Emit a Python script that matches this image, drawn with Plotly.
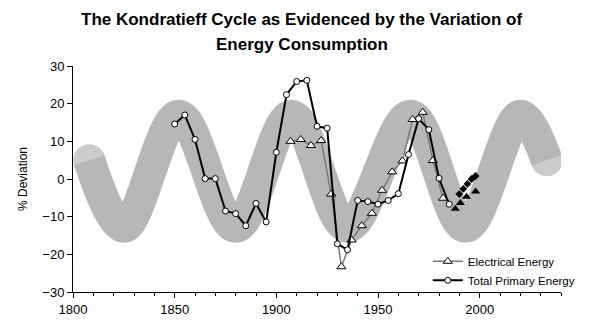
import plotly.graph_objects as go

# Kondratieff long wave (centre line of the shaded band): start, troughs, peaks, end
wave_years = [1808, 1825, 1852, 1880, 1907.5, 1935, 1966, 1993, 2020, 2033]
wave_vals = [5.0, -12.7, 16.8, -12.7, 16.8, -12.7, 16.8, -12.7, 16.8, 5.0]

# Total primary energy, % deviation from trend
total_years = list(range(1850, 1990, 5))
total_vals = [14.6, 17.0, 10.5, 0.1, 0.1, -8.5, -9.2, -12.4, -6.5, -11.4,
              7.1, 22.4, 25.9, 26.2, 14.0, 13.5, -17.2, -18.8, -5.7, -6.0,
              -6.7, -5.7, -3.9, 6.5, 16.0, 13.1, 0.2, -6.7]

# Electrical energy, % deviation from trend
elec_years = list(range(1907, 1987, 5))
elec_vals = [10.0, 10.5, 8.9, 10.2, -4.0, -23.3, -16.2, -12.4, -9.1, -3.0,
             1.9, 4.8, 15.8, 17.7, 4.9, -5.1]

# Recent years (filled markers)
elec_recent_years = [1988, 1990.5, 1993.5, 1998]
elec_recent_vals = [-7.9, -6.4, -4.7, -3.3]
total_recent_years = [1990, 1992, 1994, 1996, 1998]
total_recent_vals = [-4.0, -2.6, -1.3, 0.0, 0.8]

title_lines = ["The Kondratieff Cycle as Evidenced by the Variation of",
               "Energy Consumption"]

FONT = "Arial, 'Liberation Sans', sans-serif"
BAND = "#b7b7b7"
BAND_W = 32

fig = go.Figure()

# shaded long wave, round ends via end markers
cap_sizes = [BAND_W] + [0] * (len(wave_years) - 2) + [BAND_W]
fig.add_trace(go.Scatter(
    x=wave_years, y=wave_vals, mode="lines+markers",
    line=dict(color=BAND, width=BAND_W, shape="spline", smoothing=1.0),
    marker=dict(size=cap_sizes, color=BAND, line=dict(width=0)),
    showlegend=False, hoverinfo="skip"))

fig.add_trace(go.Scatter(
    x=elec_years, y=elec_vals, mode="lines+markers", name="Electrical Energy",
    line=dict(color="#7a7a7a", width=1.5),
    marker=dict(symbol="triangle-up", size=8, color="white",
                line=dict(color="black", width=1))))

fig.add_trace(go.Scatter(
    x=total_years, y=total_vals, mode="lines+markers", name="Total Primary Energy",
    line=dict(color="black", width=2),
    marker=dict(symbol="circle", size=6, color="white",
                line=dict(color="black", width=1))))

fig.add_trace(go.Scatter(
    x=elec_recent_years, y=elec_recent_vals, mode="markers",
    marker=dict(symbol="triangle-up", size=8, color="black"),
    showlegend=False))

fig.add_trace(go.Scatter(
    x=total_recent_years, y=total_recent_vals, mode="lines+markers",
    line=dict(color="black", width=1, dash="dot"),
    marker=dict(symbol="diamond", size=6, color="black"),
    showlegend=False))

L, R, T, B = 73, 28, 66, 41
PW, PH = 592 - L - R, 333 - T - B
title_x = (303 - L) / PW

fig.update_layout(
    width=592, height=333,
    margin=dict(l=L, r=R, t=T, b=B),
    paper_bgcolor="white", plot_bgcolor="white",
    font=dict(family=FONT, size=13, color="black"),
    showlegend=True,
    legend=dict(x=0.727, y=0.2, xanchor="left", yanchor="top",
                font=dict(family=FONT, size=11.5, color="black"),
                bgcolor="rgba(0,0,0,0)", tracegroupgap=0),
    annotations=[
        dict(text="<b>%s</b>" % title_lines[0],
             xref="paper", yref="paper", x=title_x, y=1 + (T - 20) / PH,
             xanchor="center", yanchor="middle", showarrow=False,
             font=dict(family=FONT, size=17, color="black")),
        dict(text="<b>%s</b>" % title_lines[1],
             xref="paper", yref="paper", x=title_x, y=1 + (T - 44) / PH,
             xanchor="center", yanchor="middle", showarrow=False,
             font=dict(family=FONT, size=17, color="black")),
    ],
)

fig.update_xaxes(range=[1800, 2040], tickvals=[1800, 1850, 1900, 1950, 2000],
                 ticks="outside", ticklen=5, tickcolor="black",
                 minor=dict(dtick=10, tick0=1800, ticks="outside", ticklen=3, tickcolor="black"),
                 showline=True, linecolor="black", linewidth=1,
                 showgrid=False, zeroline=False, fixedrange=True,
                 tickfont=dict(size=13))
fig.update_yaxes(range=[-30, 30], dtick=10, ticks="outside", ticklen=5, tickcolor="black",
                 showline=True, linecolor="black", linewidth=1,
                 showgrid=False, zeroline=False, fixedrange=True,
                 title=dict(text="% Deviation", font=dict(size=12), standoff=12),
                 tickfont=dict(size=13))

fig.write_html("out.html")
